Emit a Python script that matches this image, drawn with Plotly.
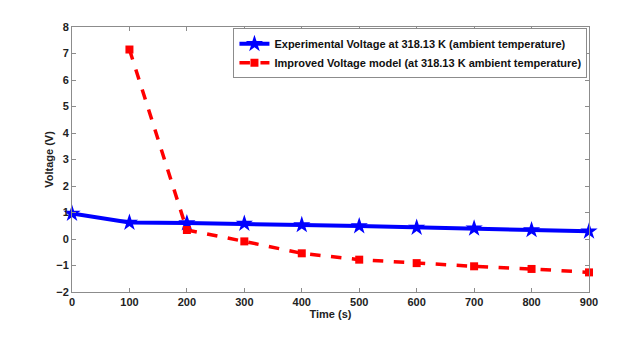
import plotly.graph_objects as go

# data
time_s = [0, 100, 200, 300, 400, 500, 600, 700, 800, 900]
exp_voltage = [0.96, 0.62, 0.60, 0.58, 0.53, 0.49, 0.43, 0.40, 0.34, 0.29]
model_time_s = [100, 200, 300, 400, 500, 600, 700, 800, 900]
model_voltage = [7.15, 0.34, -0.09, -0.54, -0.78, -0.91, -1.03, -1.13, -1.26]

x_ticks = [0, 100, 200, 300, 400, 500, 600, 700, 800, 900]
y_ticks = [-2, -1, 0, 1, 2, 3, 4, 5, 6, 7, 8]

FONT = "Liberation Sans, Arial, sans-serif"
AXIS_GREY = "#8c8c8c"

fig = go.Figure()
fig.add_trace(go.Scatter(
    x=time_s, y=exp_voltage, mode="lines+markers",
    name="Experimental Voltage at 318.13 K (ambient temperature)",
    line=dict(color="#0000ff", width=4),
    marker=dict(symbol="star", size=13, color="#0000ff"),
    cliponaxis=False,
))
fig.add_trace(go.Scatter(
    x=model_time_s, y=model_voltage, mode="lines+markers",
    name="Improved Voltage model (at 318.13 K ambient temperature)",
    line=dict(color="#ff0000", width=3.5, dash="dash"),
    marker=dict(symbol="square", size=8, color="#ff0000"),
    cliponaxis=False,
))

axis_common = dict(
    showgrid=False, zeroline=False, showline=True, linecolor=AXIS_GREY,
    linewidth=1, mirror="ticks", ticks="inside", ticklen=4,
    tickcolor=AXIS_GREY,
    tickfont=dict(family=FONT, size=11, color="#222", weight="bold"),
)
fig.update_xaxes(
    range=[0, 900], tickvals=x_ticks,
    title=dict(text="Time (s)", font=dict(family=FONT, size=11, color="#222", weight="bold"), standoff=2),
    **axis_common,
)
fig.update_yaxes(
    range=[-2, 8], tickvals=y_ticks,
    title=dict(text="Voltage (V)", font=dict(family=FONT, size=11, color="#222", weight="bold"), standoff=0),
    **axis_common,
)
# page body adds an 8px offset, so the figure is a bit smaller than the window
fig.update_layout(
    width=616, height=336,
    margin=dict(l=64, r=35, t=19, b=52),
    paper_bgcolor="white", plot_bgcolor="white",
    legend=dict(
        x=0.997, y=0.995, xanchor="right", yanchor="top",
        bgcolor="white", bordercolor=AXIS_GREY, borderwidth=1,
        font=dict(family=FONT, size=11, color="#111", weight="bold"),
        tracegroupgap=0, itemwidth=30,
    ),
    showlegend=True,
)

fig.write_html("out.html")
